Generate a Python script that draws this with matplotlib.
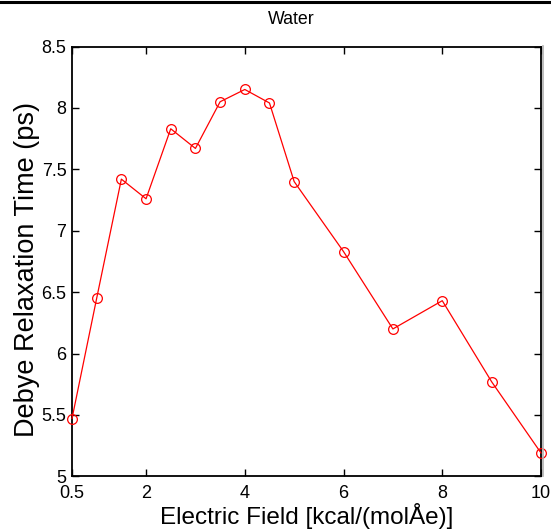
import matplotlib
matplotlib.use("Agg")
import matplotlib.pyplot as plt
from matplotlib.lines import Line2D

field = [0.5, 1, 1.5, 2, 2.5, 3, 3.5, 4, 4.5, 5, 6, 7, 8, 9, 10]
relax = [5.47, 6.45, 7.42, 7.26, 7.83, 7.67, 8.05, 8.15, 8.04, 7.40,
         6.83, 6.20, 6.43, 5.77, 5.19]
xticks = [0.5, 2, 4, 6, 8, 10]
xticklabels = ["0.5", "2", "4", "6", "8", "10"]
yticks = [5, 5.5, 6, 6.5, 7, 7.5, 8, 8.5]
yticklabels = ["5", "5.5", "6", "6.5", "7", "7.5", "8", "8.5"]

plt.rcParams['font.family'] = ['Liberation Sans', 'DejaVu Sans']

W, H = 551, 531
fig = plt.figure(figsize=(W / 100, H / 100), dpi=100)
L, R, T, B = 72, 541, 46.5, 476.3
ax = fig.add_axes([L / W, 1 - B / H, (R - L) / W, (B - T) / H])

ax.plot(field, relax, color='#ff0000', lw=0.9, marker='o', ms=7,
        mfc='none', mec='#ff0000', mew=0.9, clip_on=False, zorder=3)

ax.set_xlim(0.5, 10)
ax.set_ylim(5, 8.5)
ax.set_xticks(xticks)
ax.set_xticklabels(xticklabels, fontsize=13)
ax.set_yticks(yticks)
ax.set_yticklabels(yticklabels, fontsize=13)
ax.tick_params(direction='in', length=5, width=1, top=True, right=True,
               colors='black', pad=4)
ax.tick_params(axis='x', pad=6)
for s in ax.spines.values():
    s.set_linewidth(1.3)

ax.set_xlabel("Electric Field [kcal/(molÅe)]", fontsize=17.5, labelpad=1)
ax.set_ylabel("Debye Relaxation Time (ps)", fontsize=19.5)
ax.yaxis.set_label_coords(-0.068, 0.48)

fig.text(291.7 / W, 1 - 23.5 / H, "Water", fontsize=12.8, ha='center',
         va='baseline')

fig.add_artist(Line2D([0, 1], [1 - 1.5 / H, 1 - 1.5 / H], color='black',
                      lw=2.2, transform=fig.transFigure))
fig.add_artist(Line2D([543 / W, 543 / W], [1 - B / H, 1 - (T - 1) / H],
                      color='#b0b0b0', lw=1.2, transform=fig.transFigure))

fig.savefig("out.png", dpi=100)
